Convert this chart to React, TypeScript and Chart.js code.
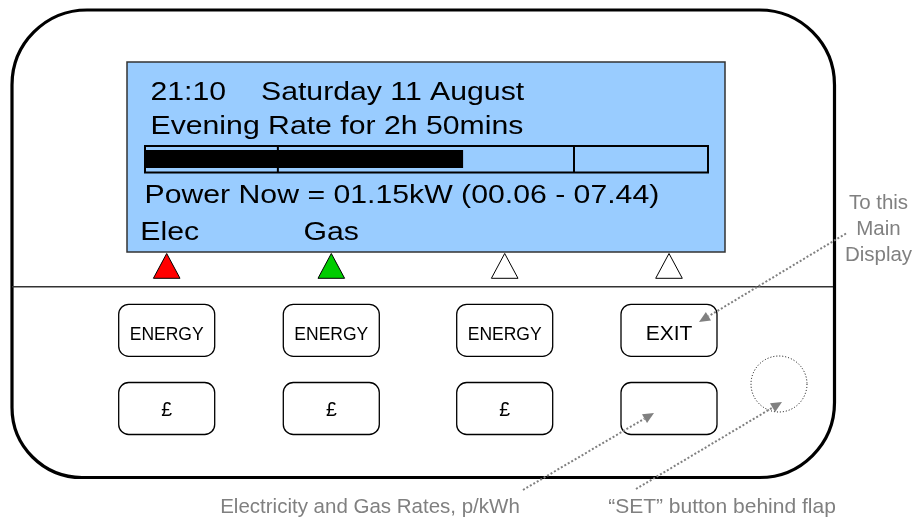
import React, { useEffect, useRef } from "react";
import { Chart, registerables } from "chart.js";

Chart.register(...registerables);

// ---- content ----
const clockText = "21:10";
const dateText = "Saturday 11 August";
const rateText = "Evening Rate for 2h 50mins";
const powerText = "Power Now = 01.15kW (00.06 - 07.44)";
const tabLabels = ["Elec", "Gas", "", ""];
const indicatorColors = ["#FF0000", "#00CC00", "#FFFFFF", "#FFFFFF"];
const topButtonLabels = ["ENERGY", "ENERGY", "ENERGY", "EXIT"];
const bottomButtonLabels = ["£", "£", "£", ""];
const progressDividers = [0.236, 0.762];
const progressValue = 0.565;
const sideNote = ["To this", "Main", "Display"];
const ratesNote = "Electricity and Gas Rates, p/kWh";
const setNote = "\u201CSET\u201D button behind flap";

// ---- layout (diagram units) ----
const W = 921;
const H = 520;
const columnX = [166.7, 331.3, 504.7, 669];
const FONT = '"Liberation Sans", Arial, Helvetica, sans-serif';

const diagramPlugin = {
  id: "diagram",
  afterDraw(chart: any) {
    const ctx: CanvasRenderingContext2D = chart.ctx;
    const xs = chart.scales.x;
    const ys = chart.scales.y;
    const px = (v: number) => xs.getPixelForValue(v);
    const py = (v: number) => ys.getPixelForValue(v);

    ctx.save();
    ctx.fillStyle = "#FFFFFF";
    ctx.fillRect(px(0), py(0), px(W) - px(0), py(H) - py(0));

    // outer casing
    ctx.beginPath();
    (ctx as any).roundRect(px(12), py(10), px(834.5) - px(12), py(477.5) - py(10), [75, 75, 75, 70]);
    ctx.lineWidth = 3.2;
    ctx.strokeStyle = "#000000";
    ctx.stroke();

    // LCD
    ctx.fillStyle = "#99CCFF";
    ctx.fillRect(px(127), py(62), px(725) - px(127), py(252) - py(62));
    ctx.lineWidth = 1.5;
    ctx.strokeStyle = "#333333";
    ctx.strokeRect(px(127), py(62), px(725) - px(127), py(252) - py(62));

    const stretched = (t: string, x: number, y: number) => {
      ctx.save();
      ctx.translate(px(x), py(y));
      ctx.scale(1.185, 1);
      ctx.fillStyle = "#000000";
      ctx.font = `25.5px ${FONT}`;
      ctx.textAlign = "left";
      ctx.textBaseline = "alphabetic";
      ctx.fillText(t, 0, 0);
      ctx.restore();
    };
    stretched(clockText, 150.5, 100);
    stretched(dateText, 261, 100);
    stretched(rateText, 150.5, 134.3);
    stretched(powerText, 144.5, 203);
    const tabX = [140.3, 303.5];
    tabLabels.forEach((t, i) => {
      if (t && i < tabX.length) stretched(t, tabX[i], 240);
    });

    // progress bar
    const bx0 = 145, bx1 = 708, by0 = 146, by1 = 172.5;
    ctx.fillStyle = "#000000";
    ctx.fillRect(px(bx0), py(150), px(bx0 + (bx1 - bx0) * progressValue) - px(bx0), py(168) - py(150));
    ctx.lineWidth = 2;
    ctx.strokeStyle = "#000000";
    ctx.strokeRect(px(bx0), py(by0), px(bx1) - px(bx0), py(by1) - py(by0));
    progressDividers.forEach((f) => {
      const x = px(bx0 + (bx1 - bx0) * f);
      ctx.beginPath();
      ctx.moveTo(x, py(by0));
      ctx.lineTo(x, py(by1));
      ctx.stroke();
    });

    // indicator triangles
    indicatorColors.forEach((c, i) => {
      const cx = columnX[i];
      ctx.beginPath();
      ctx.moveTo(px(cx), py(253.5));
      ctx.lineTo(px(cx + 13.3), py(278.3));
      ctx.lineTo(px(cx - 13.3), py(278.3));
      ctx.closePath();
      ctx.fillStyle = c;
      ctx.fill();
      ctx.lineWidth = 1;
      ctx.strokeStyle = "#000000";
      ctx.stroke();
    });

    // separator
    ctx.beginPath();
    ctx.moveTo(px(12), py(286.7));
    ctx.lineTo(px(833), py(286.7));
    ctx.lineWidth = 1.4;
    ctx.strokeStyle = "#333333";
    ctx.stroke();

    // buttons
    const drawButton = (cx: number, top: number, label: string, size: number, base: number) => {
      ctx.beginPath();
      (ctx as any).roundRect(px(cx - 48), py(top), px(cx + 48) - px(cx - 48), py(top + 52) - py(top), 10);
      ctx.fillStyle = "#FFFFFF";
      ctx.fill();
      ctx.lineWidth = 1.3;
      ctx.strokeStyle = "#000000";
      ctx.stroke();
      if (label) {
        ctx.fillStyle = "#000000";
        ctx.font = `${size}px ${FONT}`;
        ctx.textAlign = "center";
        ctx.textBaseline = "alphabetic";
        ctx.fillText(label, px(cx), py(base));
      }
    };
    topButtonLabels.forEach((l, i) => {
      const big = l === "EXIT";
      drawButton(columnX[i], 304.3, l, big ? 21 : 17.5, big ? 339.5 : 340.3);
    });
    bottomButtonLabels.forEach((l, i) => drawButton(columnX[i], 382.5, l, 19.5, 415.5));

    // flap circle
    ctx.beginPath();
    ctx.arc(px(779), py(384), 28, 0, Math.PI * 2);
    ctx.setLineDash([1, 2]);
    ctx.lineWidth = 1;
    ctx.strokeStyle = "#000000";
    ctx.stroke();
    ctx.setLineDash([]);

    // annotation text
    ctx.fillStyle = "#808080";
    ctx.textAlign = "center";
    ctx.font = `20.5px ${FONT}`;
    sideNote.forEach((t, i) => ctx.fillText(t, px(878.5), py(209 + i * 26)));
    ctx.font = `20.5px ${FONT}`;
    ctx.fillText(ratesNote, px(370), py(513));
    ctx.font = `21px ${FONT}`;
    ctx.fillText(setNote, px(722), py(512.7));

    // dotted arrows
    const arrow = (x0: number, y0: number, tx: number, ty: number) => {
      const a = Math.atan2(py(ty) - py(y0), px(tx) - px(x0));
      const len = 11, hw = 5;
      const bxp = px(tx) - len * Math.cos(a);
      const byp = py(ty) - len * Math.sin(a);
      ctx.beginPath();
      ctx.moveTo(px(x0), py(y0));
      ctx.lineTo(bxp, byp);
      ctx.setLineDash([2, 2]);
      ctx.lineWidth = 2;
      ctx.strokeStyle = "#808080";
      ctx.stroke();
      ctx.setLineDash([]);
      ctx.beginPath();
      ctx.moveTo(px(tx), py(ty));
      ctx.lineTo(bxp + hw * Math.sin(a), byp - hw * Math.cos(a));
      ctx.lineTo(bxp - hw * Math.sin(a), byp + hw * Math.cos(a));
      ctx.closePath();
      ctx.fillStyle = "#808080";
      ctx.fill();
    };
    arrow(846, 233.5, 699, 322);
    arrow(523, 490, 654, 413);
    arrow(636, 489, 782, 402);

    ctx.restore();
  },
};

export default function App() {
  const ref = useRef<HTMLCanvasElement | null>(null);
  useEffect(() => {
    if (!ref.current) return;
    const chart = new Chart(ref.current, {
      type: "scatter",
      data: { datasets: [] },
      options: {
        animation: false,
        responsive: false,
        maintainAspectRatio: false,
        layout: { padding: 0 },
        plugins: { legend: { display: false }, tooltip: { enabled: false } },
        scales: {
          x: { type: "linear", min: 0, max: W, display: false },
          y: { type: "linear", min: 0, max: H, reverse: true, display: false },
        },
      },
      plugins: [diagramPlugin],
    } as any);
    return () => chart.destroy();
  }, []);
  return (
    <div style={{ position: "absolute", left: 0, top: 0, width: W, height: H, background: "#fff" }}>
      <canvas ref={ref} width={W} height={H} style={{ display: "block", width: W, height: H }} />
    </div>
  );
}
